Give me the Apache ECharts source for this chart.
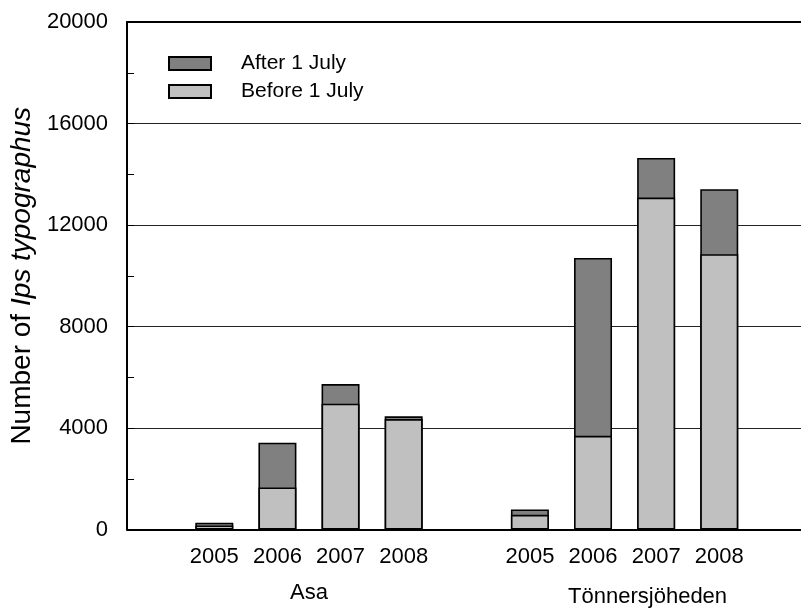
<!DOCTYPE html>
<html>
<head>
<meta charset="utf-8">
<script src="https://cdn.jsdelivr.net/npm/echarts@6/dist/echarts.min.js"></script>
<style>html,body{margin:0;padding:0;background:#fff;}#c{width:801px;height:608px;}</style>
</head>
<body>
<div id="c"></div>
<script>
const groups = ['Asa', 'Tönnersjöheden'];
const years = ['2005', '2006', '2007', '2008'];
const beforeAsa = [160, 1660, 4960, 4350];
const afterAsa = [110, 1760, 770, 110];
const beforeTon = [580, 3690, 13080, 10850];
const afterTon = [210, 7010, 1560, 2560];
const yTicks = [0, 4000, 8000, 12000, 16000, 20000];

const FONT = "'Liberation Sans', Arial, sans-serif";
const before = [beforeAsa, beforeTon];
const after = [afterAsa, afterTon];

// ordinal slot index for each bar: group g, year i -> g*5 + i + 1
const slotOf = (g, i) => g * 5 + i + 1;
const totalData = [], beforeData = [], labelMap = {}, slotVals = [];
groups.forEach((gName, g) => {
  years.forEach((yr, i) => {
    const s = slotOf(g, i);
    slotVals.push(s);
    labelMap[s] = yr;
    beforeData.push([s, before[g][i]]);
    totalData.push([s, before[g][i] + after[g][i]]);
  });
});
const groupCenters = groups.map((gName, g) => (slotOf(g, 0) + slotOf(g, years.length - 1)) / 2);
const groupMap = {};
groupCenters.forEach((c, g) => groupMap[c] = groups[g]);

const xMin = -0.382, xMax = 10.295;

const chart = echarts.init(document.getElementById('c'), null, {renderer: 'canvas'});
chart.setOption({
  animation: false,
  backgroundColor: '#fff',
  textStyle: {fontFamily: FONT, color: '#000'},
  grid: {left: 121, right: 0, top: 22, bottom: 78.5, containLabel: false},
  legend: {
    orient: 'vertical', left: 168, top: 53, padding: 0,
    itemWidth: 42, itemHeight: 13, itemGap: 7,
    icon: 'rect',
    data: ['After 1 July', 'Before 1 July'],
    textStyle: {fontFamily: FONT, fontSize: 21, color: '#000', padding: [0, 0, 0, 25]},
    itemStyle: {borderColor: '#000', borderWidth: 2}
  },
  xAxis: [
    {
      type: 'value', min: xMin, max: xMax, position: 'bottom',
      axisLine: {show: true, onZero: false, lineStyle: {color: '#000', width: 2}},
      axisTick: {show: false},
      splitLine: {show: false},
      axisLabel: {
        customValues: slotVals, margin: 16,
        fontFamily: FONT, fontSize: 22, color: '#000',
        formatter: v => labelMap[v] || ''
      }
    },
    {
      type: 'value', min: xMin, max: xMax, position: 'bottom', offset: 36,
      axisLine: {show: false}, axisTick: {show: false}, splitLine: {show: false},
      axisLabel: {
        customValues: groupCenters, margin: 16,
        fontFamily: FONT, fontSize: 22, color: '#000',
        formatter: v => groupMap[v] === groups[1] ? '{t|' + groupMap[v] + '}' : (groupMap[v] || ''),
        rich: {t: {fontFamily: FONT, fontSize: 22, color: '#000', padding: [4, 0, 0, 46]}}
      }
    },
    {
      type: 'value', min: xMin, max: xMax, position: 'top',
      axisLine: {show: true, onZero: false, lineStyle: {color: '#000', width: 2}},
      axisTick: {show: false}, axisLabel: {show: false}, splitLine: {show: false}
    }
  ],
  yAxis: {
    type: 'value', min: 0, max: 20000, interval: 4000,
    name: '{n|Number of }{i|Ips typographus}',
    nameLocation: 'middle', nameGap: 74, nameRotate: 90,
    nameTextStyle: {
      rich: {
        n: {fontFamily: FONT, fontSize: 28, color: '#000'},
        i: {fontFamily: FONT, fontSize: 28, color: '#000', fontStyle: 'italic'}
      }
    },
    axisLine: {show: true, onZero: false, lineStyle: {color: '#000', width: 2}},
    axisTick: {show: true, inside: true, length: 7, lineStyle: {color: '#000'}},
    minorTick: {show: true, splitNumber: 2, length: 7, lineStyle: {color: '#000'}},
    axisLabel: {
      margin: 19, fontFamily: FONT, fontSize: 22, color: '#000',
      customValues: yTicks,
      formatter: v => String(v)
    },
    splitLine: {show: true, lineStyle: {color: '#222', width: 1}}
  },
  series: [
    {
      name: 'After 1 July', type: 'bar', xAxisIndex: 0, barWidth: 38, barGap: '-100%',
      itemStyle: {color: '#808080', borderColor: '#000', borderWidth: 1.6},
      data: totalData
    },
    {
      name: 'Before 1 July', type: 'bar', xAxisIndex: 0, barWidth: 38, barGap: '-100%',
      itemStyle: {color: '#c0c0c0', borderColor: '#000', borderWidth: 1.6},
      data: beforeData
    }
  ]
});
</script>
</body>
</html>
